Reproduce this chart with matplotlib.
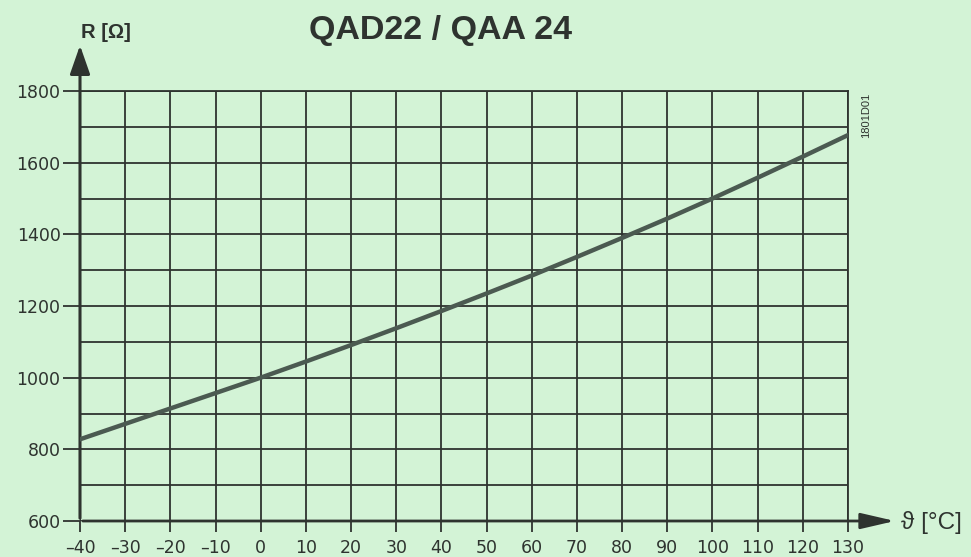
import matplotlib
matplotlib.use("Agg")
import matplotlib.pyplot as plt
from matplotlib.ticker import MultipleLocator

temps = [-40, -30, -20, -10, 0, 10, 20, 30, 40, 50, 60, 70, 80, 90, 100, 110, 120, 130]
resist = [828, 871, 914, 957, 1000, 1045, 1091, 1138, 1186, 1235, 1285, 1337, 1390, 1444, 1500, 1558, 1617, 1677]
x_ticks = list(range(-40, 131, 10))
y_ticks = list(range(600, 1801, 200))

bg = "#d3f3d6"
ink = "#2e332f"
plt.rcParams['font.family'] = ['Liberation Sans', 'DejaVu Sans']

fig = plt.figure(figsize=(9.71, 5.57), dpi=100, facecolor=bg)
ax = fig.add_axes([80/971, 36/557, 768/971, 430/557])
ax.set_facecolor(bg)
ax.set_xlim(-40, 130)
ax.set_ylim(600, 1800)

ax.yaxis.set_minor_locator(MultipleLocator(100))
ax.set_xticks(x_ticks)
ax.set_xticklabels([str(t).replace('-', '\u2013') for t in x_ticks], family='DejaVu Sans')
ax.set_yticks(y_ticks)
ax.set_yticklabels([str(t) for t in y_ticks], family='DejaVu Sans')
ax.grid(True, which='both', axis='y', color=ink, lw=1.3)
ax.grid(True, which='major', axis='x', color=ink, lw=1.3)
ax.tick_params(axis='y', which='minor', length=0)
ax.tick_params(axis='y', which='major', length=12, pad=2)
ax.tick_params(axis='x', which='major', length=8, pad=5)
ax.tick_params(axis='both', which='major', width=1.3, color=ink,
               labelsize=12.5, labelcolor=ink)
for s in ['top', 'right']:
    ax.spines[s].set_visible(True)
    ax.spines[s].set_color(ink)
    ax.spines[s].set_linewidth(1.3)
ax.spines['left'].set_visible(False)
ax.spines['bottom'].set_visible(False)

ax.plot(temps, resist, color="#4b5a51", lw=3.2, solid_capstyle='round', zorder=5)

# axis arrows
ax.annotate('', xy=(-40, 1935), xytext=(-40, 600), xycoords='data',
            arrowprops=dict(arrowstyle='-|>,head_width=0.28,head_length=0.8', color=ink, lw=2.2, mutation_scale=22),
            annotation_clip=False)
ax.annotate('', xy=(141.0, 600), xytext=(-40, 600), xycoords='data',
            arrowprops=dict(arrowstyle='-|>,head_width=0.22,head_length=0.95', color=ink, lw=2.0, mutation_scale=22),
            annotation_clip=False)

fig.text(106/971, 1 - 32/557, 'R [\u03a9]', fontsize=14.5, color=ink, ha='center', va='center', fontweight='bold')
fig.text(440/971, 1 - 30/557, 'QAD22 / QAA 24', fontsize=24.5, color=ink, ha='center', va='center',
         fontweight='bold')
fig.text(931/971, 1 - 522/557, '\u03d1 [\u00b0C]', fontsize=17.5, color=ink, ha='center', va='center')
fig.text(866/971, 1 - 115/557, '1801D01', fontsize=8, color=ink, ha='center', va='center', rotation=90)

fig.savefig('out.png', dpi=100, facecolor=bg)
